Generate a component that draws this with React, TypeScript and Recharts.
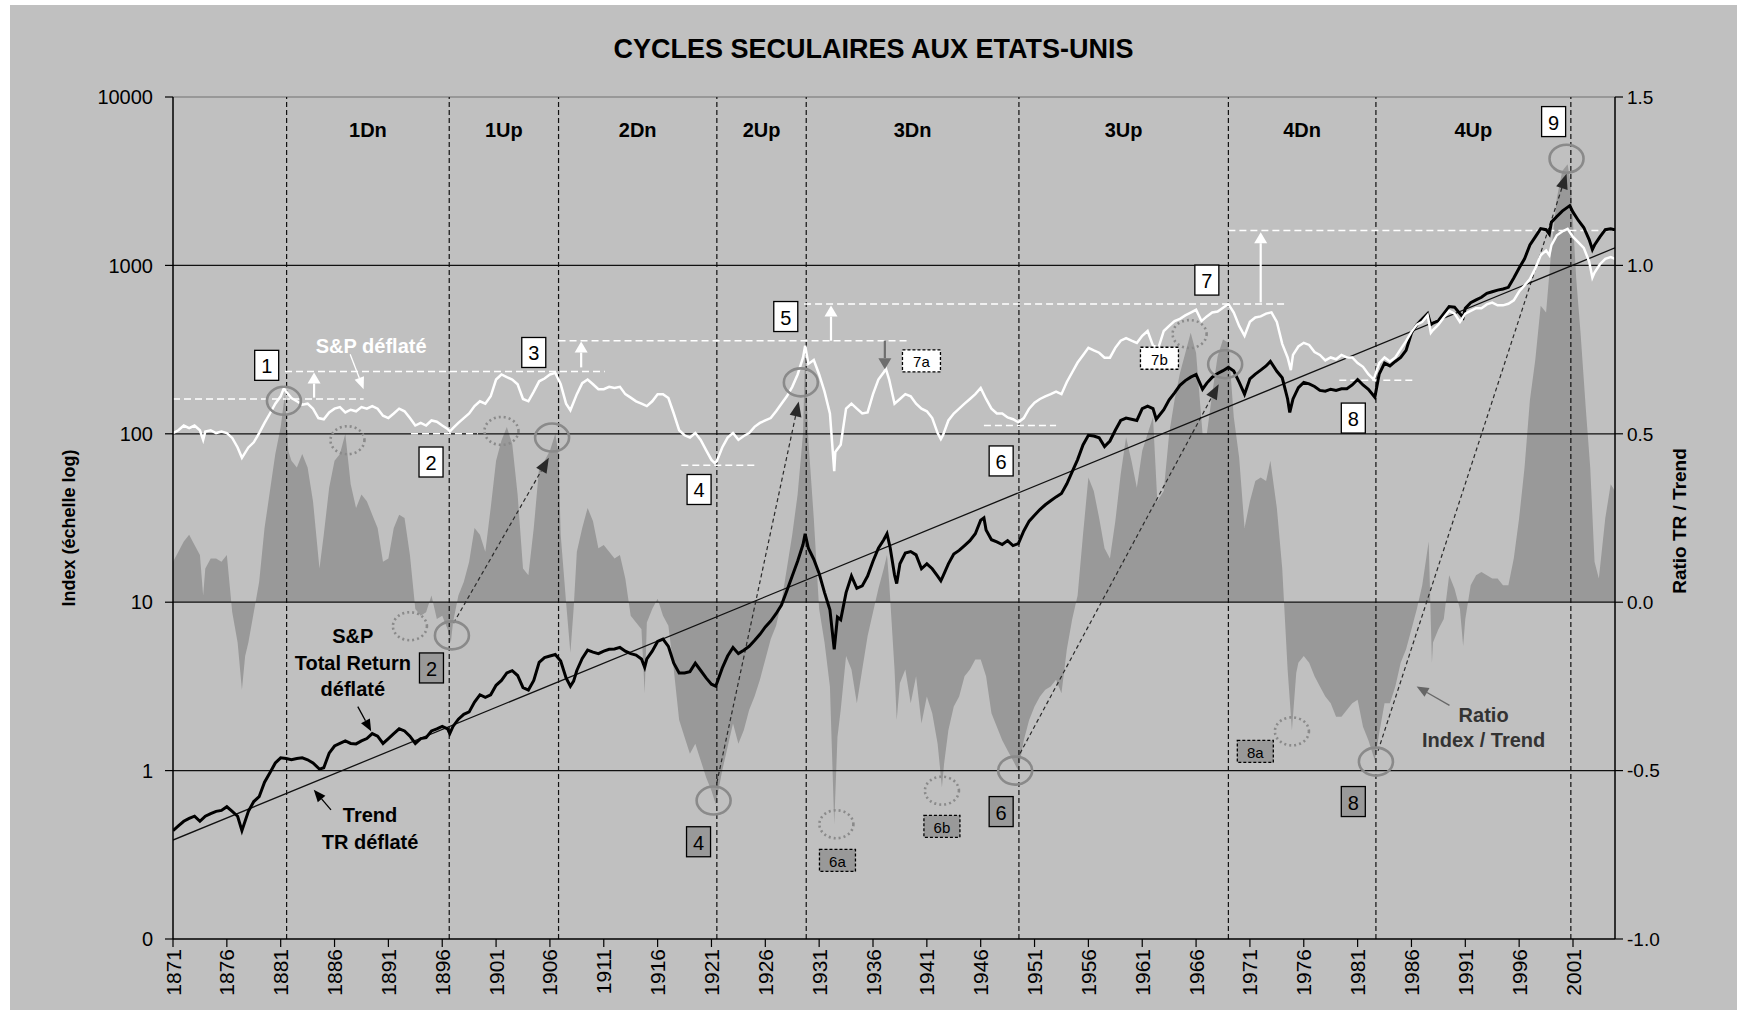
import React from 'react';
import { ComposedChart, Line, Area, XAxis, YAxis, ReferenceLine, ReferenceDot } from 'recharts';

const FONT = "'Liberation Sans', Arial, Helvetica, sans-serif";
const W = 1727;
const H = 1005;

// ---------- series (year, value) ----------
const SP_DEFLATED: [number, number][] = [
  [1871,101],[1871.5,105],[1872,112],[1872.5,108],[1873,112],[1873.5,105],[1873.8,92],[1874,103],[1874.5,105],[1875,101],[1875.5,103],[1876,101],[1876.5,94.5],[1877,83],[1877.4,72],[1878,83],[1878.5,89],[1879,101],[1879.5,116],[1880,132],[1880.5,151],[1881,167],[1881.3,187],[1881.5,178],[1882,163],[1882.5,156],[1883,149],[1883.5,151],[1884,141],[1884.5,124],[1885,122],[1885.5,134],[1886,141],[1886.5,144],[1887,134],[1887.5,139],[1888,136],[1888.5,144],[1889,141],[1889.5,146],[1890,141],[1890.5,128],[1891,124],[1891.5,132],[1892,141],[1892.5,136],[1893,124],[1893.5,112],[1894,116],[1894.5,112],[1895,120],[1895.5,118],[1896,112],[1896.5,107],[1896.7,103],[1897,108],[1897.5,116],[1898,124],[1898.5,132],[1899,146],[1899.5,156],[1900,151],[1900.5,167],[1901,210],[1901.5,225],[1902,217],[1902.5,210],[1903,197],[1903.5,161],[1904,156],[1904.5,178],[1905,205],[1905.5,213],[1906,225],[1906.5,230],[1907,197],[1907.5,151],[1907.9,138],[1908.5,172],[1909,200],[1909.5,210],[1910,197],[1910.5,184],[1911,184],[1911.5,190],[1912,187],[1912.5,190],[1913,172],[1913.5,164],[1914,156],[1914.5,151],[1915,146],[1915.5,156],[1916,172],[1916.5,172],[1917,163],[1917.5,132],[1918,105],[1918.5,98],[1919,95],[1919.5,101],[1920,92],[1920.5,80],[1921,70],[1921.3,67],[1921.5,69],[1922,83],[1922.5,95],[1923,101],[1923.5,92],[1924,97],[1924.5,101],[1925,110],[1925.5,116],[1926,120],[1926.5,124],[1927,136],[1927.5,151],[1928,167],[1928.5,190],[1929,225],[1929.5,283],[1929.7,334],[1930,260],[1930.5,274],[1931,225],[1931.5,178],[1932,132],[1932.4,60],[1932.5,78],[1933,86],[1933.5,141],[1934,151],[1934.5,141],[1935,132],[1935.5,134],[1936,172],[1936.5,210],[1937,232],[1937.2,243],[1937.5,210],[1938,151],[1938.5,161],[1939,172],[1939.5,167],[1940,151],[1940.5,141],[1941,136],[1941.5,124],[1942,101],[1942.3,93],[1942.5,98],[1943,120],[1943.5,132],[1944,141],[1944.5,151],[1945,161],[1945.5,172],[1946,187],[1946.5,161],[1947,141],[1947.5,132],[1948,132],[1948.5,125],[1949,122],[1949.5,117],[1950,124],[1950.5,141],[1951,153],[1951.5,161],[1952,167],[1952.5,172],[1953,178],[1953.5,172],[1954,203],[1954.5,232],[1955,265],[1955.5,293],[1956,324],[1956.5,313],[1957,303],[1957.5,283],[1958,283],[1958.5,324],[1959,357],[1959.5,370],[1960,357],[1960.5,346],[1961,382],[1961.5,408],[1962,334],[1962.5,324],[1963,408],[1963.5,437],[1964,467],[1964.5,482],[1965,505],[1965.5,525],[1966,545],[1966.5,467],[1967,498],[1967.5,525],[1968,532],[1968.5,560],[1969,590],[1969.5,525],[1970,437],[1970.5,382],[1971,462],[1971.5,491],[1972,498],[1972.5,517],[1973,526],[1973.5,462],[1974,342],[1974.5,284],[1974.8,239],[1975,294],[1975.5,330],[1976,347],[1976.5,337],[1977,306],[1977.5,294],[1978,273],[1978.5,284],[1979,277],[1979.5,294],[1980,284],[1980.5,284],[1981,263],[1981.5,250],[1982,226],[1982.5,210],[1983,263],[1983.5,284],[1984,269],[1984.5,284],[1985,318],[1985.5,355],[1986,403],[1986.5,445],[1987,462],[1987.5,506],[1987.8,398],[1988,413],[1988.5,445],[1989,491],[1989.5,537],[1990,517],[1990.5,462],[1991,517],[1991.5,537],[1992,557],[1992.5,557],[1993,587],[1993.5,601],[1994,579],[1994.5,579],[1995,592],[1995.5,620],[1996,700],[1996.5,760],[1997,830],[1997.5,960],[1998,1150],[1998.5,1225],[1998.8,1150],[1999,1320],[1999.5,1510],[2000,1590],[2000.5,1650],[2001,1476],[2001.5,1371],[2002,1271],[2002.5,1054],[2002.8,847],[2003,907],[2003.5,1016],[2004,1094],[2004.5,1119],[2004.9,1094],
];

const TR_DEFLATED: [number, number][] = [
  [1871,0.44],[1871.5,0.47],[1872,0.5],[1872.5,0.52],[1873,0.536],[1873.5,0.5],[1874,0.536],[1874.5,0.555],[1875,0.573],[1875.5,0.58],[1876,0.61],[1876.5,0.573],[1877,0.536],[1877.4,0.44],[1878,0.573],[1878.5,0.655],[1879,0.7],[1879.5,0.853],[1880,0.97],[1880.5,1.11],[1881,1.19],[1881.5,1.18],[1882,1.16],[1882.5,1.18],[1883,1.19],[1883.5,1.16],[1884,1.11],[1884.6,1.02],[1885,1.04],[1885.5,1.27],[1886,1.4],[1886.5,1.45],[1887,1.5],[1887.5,1.45],[1888,1.44],[1888.5,1.5],[1889,1.55],[1889.5,1.66],[1890,1.6],[1890.5,1.45],[1891,1.55],[1891.5,1.66],[1892,1.77],[1892.5,1.72],[1893,1.6],[1893.5,1.45],[1894,1.55],[1894.5,1.57],[1895,1.72],[1895.5,1.77],[1896,1.83],[1896.5,1.77],[1896.7,1.66],[1897,1.83],[1897.5,2.02],[1898,2.16],[1898.5,2.23],[1899,2.55],[1899.5,2.82],[1900,2.72],[1900.5,2.82],[1901,3.21],[1901.5,3.43],[1902,3.8],[1902.5,3.92],[1903,3.67],[1903.5,3.11],[1904,3.01],[1904.5,3.43],[1905,4.4],[1905.5,4.69],[1906,4.79],[1906.5,4.89],[1907,4.48],[1907.5,3.55],[1907.9,3.17],[1908.2,3.4],[1908.5,3.93],[1909,4.64],[1909.5,5.19],[1910,5.05],[1910.5,4.95],[1911,5.12],[1911.5,5.25],[1912,5.28],[1912.5,5.39],[1913,5.12],[1913.5,4.95],[1914,4.85],[1914.5,4.6],[1914.8,4.1],[1915,4.6],[1915.5,5.12],[1916,5.85],[1916.5,6.04],[1917,5.47],[1917.5,4.34],[1918,3.8],[1918.5,3.8],[1919,3.87],[1919.5,4.34],[1920,3.93],[1920.5,3.55],[1921,3.26],[1921.4,3.17],[1922,4.06],[1922.5,4.79],[1923,5.39],[1923.5,4.95],[1924,5.19],[1924.5,5.47],[1925,5.92],[1925.5,6.45],[1926,7.13],[1926.5,7.73],[1927,8.54],[1927.5,9.62],[1928,11.7],[1928.5,14.3],[1929,17.5],[1929.5,22],[1929.7,25.5],[1930,20.9],[1930.5,18],[1931,14.8],[1931.5,11.4],[1932,9],[1932.4,5.25],[1932.7,8.15],[1933,7.87],[1933.5,11.4],[1934,14.3],[1934.5,12.1],[1935,12.5],[1935.5,14.3],[1936,17.5],[1936.5,20.9],[1937,23.5],[1937.3,25.5],[1937.6,21],[1938,14.5],[1938.2,12.9],[1938.5,16.9],[1939,19.6],[1939.5,20],[1940,19.1],[1940.5,15.8],[1941,16.9],[1941.5,15.8],[1942,14.3],[1942.3,13.4],[1942.5,14.3],[1943,16.9],[1943.5,19.3],[1944,20.3],[1944.5,21.7],[1945,23.2],[1945.5,25.5],[1946,30.7],[1946.3,31.7],[1946.5,26.8],[1947,23.5],[1947.5,22.8],[1948,22],[1948.5,23.2],[1949,21.7],[1949.5,22.3],[1950,26.5],[1950.5,30.3],[1951,32.8],[1951.5,35.5],[1952,37.9],[1952.5,40],[1953,42.2],[1953.5,44.2],[1954,50.5],[1954.5,59.6],[1955,70.3],[1955.5,85.9],[1956,98],[1956.5,97],[1957,94.8],[1957.5,84.1],[1958,90.6],[1958.5,105],[1959,120],[1959.5,124],[1960,122],[1960.5,120],[1961,141],[1961.5,146],[1962,141],[1962.3,122],[1963,139],[1963.5,159],[1964,175],[1964.5,194],[1965,207],[1965.5,217],[1966,225],[1966.6,184],[1967,200],[1967.5,217],[1968,228],[1968.5,237],[1969,248],[1969.5,236],[1970,203],[1970.5,172],[1971,212],[1971.5,226],[1972,239],[1972.5,253],[1972.9,269],[1973.5,235],[1974,215],[1974.5,161],[1974.7,134],[1975,161],[1975.5,188],[1976,202],[1976.5,198],[1977,191],[1977.5,181],[1978,179],[1978.5,184],[1979,181],[1979.5,185],[1980,185],[1980.5,195],[1981,210],[1981.5,195],[1982,184],[1982.6,165],[1983,226],[1983.5,263],[1984,253],[1984.5,269],[1985,284],[1985.5,313],[1986,397],[1986.5,445],[1987,480],[1987.5,517],[1987.8,445],[1988,455],[1988.5,469],[1989,517],[1989.5,570],[1990,565],[1990.5,517],[1990.8,491],[1991,557],[1991.5,601],[1992,624],[1992.5,647],[1993,682],[1993.5,698],[1994,713],[1994.5,724],[1995,741],[1995.5,841],[1996,964],[1996.5,1094],[1997,1321],[1997.5,1476],[1998,1652],[1998.5,1629],[1998.8,1535],[1999,1808],[1999.5,1950],[2000,2100],[2000.7,2264],[2001,2070],[2001.5,1849],[2002,1679],[2002.5,1422],[2002.8,1242],[2003,1321],[2003.5,1476],[2004,1629],[2004.5,1652],[2004.9,1629],
];

const RATIO_INDEX_TREND: [number, number][] = [
  [1871,0.12],[1871.5,0.15],[1872,0.18],[1872.5,0.2],[1873,0.17],[1873.5,0.14],[1873.8,0.02],[1874,0.1],[1874.5,0.13],[1875,0.13],[1875.5,0.12],[1876,0.14],[1876.5,-0.03],[1877,-0.12],[1877.4,-0.26],[1877.7,-0.16],[1878,-0.12],[1878.5,-0.03],[1879,0.06],[1879.5,0.22],[1880,0.33],[1880.5,0.44],[1881,0.52],[1881.4,0.62],[1881.7,0.45],[1882,0.42],[1882.5,0.4],[1883,0.44],[1883.5,0.4],[1884,0.3],[1884.6,0.1],[1885,0.2],[1885.5,0.34],[1886,0.42],[1886.5,0.44],[1887,0.5],[1887.5,0.35],[1888,0.28],[1888.5,0.32],[1889,0.3],[1889.5,0.26],[1890,0.22],[1890.5,0.12],[1891,0.13],[1891.5,0.22],[1892,0.26],[1892.5,0.25],[1893,0.14],[1893.5,-0.02],[1894,-0.04],[1894.5,-0.03],[1895,0.02],[1895.5,-0.05],[1896,-0.04],[1896.5,-0.08],[1896.8,-0.12],[1897,-0.06],[1897.5,0.02],[1898,0.06],[1898.5,0.12],[1899,0.22],[1899.5,0.2],[1900,0.15],[1900.5,0.28],[1901,0.42],[1901.5,0.48],[1902,0.52],[1902.5,0.47],[1903,0.32],[1903.5,0.1],[1904,0.08],[1904.5,0.22],[1905,0.4],[1905.5,0.42],[1906,0.45],[1906.5,0.5],[1906.8,0.44],[1907,0.2],[1907.5,0],[1907.9,-0.15],[1908.2,-0.02],[1908.5,0.15],[1909,0.22],[1909.5,0.28],[1910,0.24],[1910.5,0.16],[1911,0.17],[1911.5,0.15],[1912,0.13],[1912.5,0.14],[1913,0.07],[1913.5,-0.04],[1914,-0.06],[1914.5,-0.08],[1914.8,-0.27],[1915,-0.06],[1915.5,-0.02],[1916,0.01],[1916.5,-0.04],[1917,-0.07],[1917.5,-0.2],[1918,-0.35],[1918.5,-0.4],[1919,-0.45],[1919.5,-0.42],[1920,-0.47],[1920.5,-0.52],[1921,-0.56],[1921.4,-0.6],[1922,-0.5],[1922.5,-0.43],[1923,-0.36],[1923.5,-0.42],[1924,-0.38],[1924.5,-0.32],[1925,-0.28],[1925.5,-0.23],[1926,-0.17],[1926.5,-0.11],[1927,-0.07],[1927.5,0],[1928,0.1],[1928.5,0.2],[1929,0.32],[1929.5,0.5],[1929.7,0.74],[1930,0.48],[1930.5,0.25],[1931,-0.02],[1931.5,-0.12],[1932,-0.25],[1932.4,-0.66],[1932.7,-0.4],[1933,-0.32],[1933.5,-0.16],[1934,-0.2],[1934.5,-0.3],[1935,-0.2],[1935.5,-0.1],[1936,-0.03],[1936.5,0.04],[1937,0.1],[1937.3,0.14],[1937.5,0.06],[1938,-0.2],[1938.2,-0.35],[1938.5,-0.24],[1939,-0.2],[1939.5,-0.3],[1940,-0.22],[1940.5,-0.36],[1941,-0.28],[1941.5,-0.33],[1942,-0.42],[1942.4,-0.55],[1942.6,-0.48],[1943,-0.38],[1943.5,-0.31],[1944,-0.28],[1944.5,-0.22],[1945,-0.2],[1945.5,-0.17],[1946,-0.17],[1946.5,-0.22],[1947,-0.33],[1947.5,-0.37],[1948,-0.41],[1948.5,-0.44],[1949,-0.47],[1949.5,-0.5],[1950,-0.41],[1950.5,-0.35],[1951,-0.31],[1951.5,-0.28],[1952,-0.26],[1952.5,-0.25],[1953,-0.23],[1953.5,-0.27],[1954,-0.14],[1954.5,-0.05],[1955,0.02],[1955.5,0.2],[1956,0.37],[1956.5,0.33],[1957,0.25],[1957.5,0.16],[1958,0.13],[1958.5,0.24],[1959,0.38],[1959.5,0.49],[1960,0.42],[1960.5,0.34],[1961,0.45],[1961.5,0.5],[1962,0.55],[1962.4,0.3],[1963,0.33],[1963.5,0.5],[1964,0.6],[1964.5,0.68],[1965,0.74],[1965.5,0.8],[1966,0.74],[1966.6,0.5],[1967,0.5],[1967.5,0.62],[1968,0.73],[1968.5,0.78],[1969,0.77],[1969.5,0.55],[1970,0.43],[1970.5,0.22],[1971,0.3],[1971.5,0.36],[1972,0.37],[1972.5,0.36],[1972.9,0.42],[1973.5,0.28],[1974,0.1],[1974.5,-0.2],[1974.9,-0.38],[1975.3,-0.21],[1975.5,-0.18],[1976,-0.16],[1976.5,-0.18],[1977,-0.22],[1977.5,-0.25],[1978,-0.28],[1978.5,-0.3],[1979,-0.34],[1979.5,-0.34],[1980,-0.32],[1980.5,-0.3],[1981,-0.29],[1981.5,-0.37],[1982,-0.41],[1982.6,-0.47],[1983,-0.39],[1983.5,-0.3],[1984,-0.3],[1984.5,-0.25],[1985,-0.18],[1985.5,-0.14],[1986,-0.08],[1986.5,-0.02],[1987,0.05],[1987.6,0.18],[1987.9,-0.18],[1988,-0.12],[1988.5,-0.08],[1989,-0.05],[1989.5,0.08],[1990,0.04],[1990.5,-0.02],[1990.8,-0.13],[1991,-0.05],[1991.5,0.05],[1992,0.08],[1992.5,0.09],[1993,0.08],[1993.5,0.07],[1994,0.07],[1994.5,0.05],[1995,0.05],[1995.5,0.13],[1996,0.25],[1996.5,0.4],[1997,0.6],[1997.5,0.72],[1998,0.88],[1998.5,0.86],[1999,1.05],[1999.5,1.2],[2000,1.28],[2000.5,1.3],[2000.8,1.24],[2001.3,0.96],[2001.7,0.8],[2002.2,0.57],[2002.6,0.4],[2003,0.12],[2003.4,0.07],[2004,0.25],[2004.5,0.35],[2004.9,0.33],
];

const TREND_TR: [number, number][] = [[1871, 0.387], [2004.9, 1271]];

// ---------- axes ----------
const X_TICKS = [1871,1876,1881,1886,1891,1896,1901,1906,1911,1916,1921,1926,1931,1936,1941,1946,1951,1956,1961,1966,1971,1976,1981,1986,1991,1996,2001];
const LEFT_TICKS = [0.1, 1, 10, 100, 1000, 10000];
const LEFT_TICK_LABELS = ['0', '1', '10', '100', '1000', '10000'];
const RIGHT_TICKS = [-1, -0.5, 0, 0.5, 1, 1.5];
const GRID_LEVELS = [1, 10, 100, 1000];

// ---------- secular cycles ----------
const CYCLE_BOUNDS = [1881.55, 1896.65, 1906.8, 1921.5, 1929.8, 1949.55, 1969.0, 1982.7, 2000.8];
const CYCLE_NAMES = ['1Dn', '1Up', '2Dn', '2Up', '3Dn', '3Up', '4Dn', '4Up'];
const CYCLE_LABEL_LEVEL = 6370;

// ---------- annotations (year, index value) ----------
const WHITE_LEVELS: [number, number, number][] = [
  [1871, 1888.7, 161], [1881.4, 1911.1, 234], [1893.1, 1899.3, 100], [1906.8, 1939.4, 357],
  [1918.2, 1925.1, 65], [1929.6, 1974.2, 590], [1946.3, 1953.0, 112], [1969.0, 2004.8, 1610], [1979.3, 1986.1, 208],
];
const WHITE_UP_ARROWS: [number, number, number][] = [[1884.1, 164, 231], [1908.9, 248, 353], [1932.1, 357, 577], [1972.0, 603, 1574]];
const GRAY_DOWN_ARROWS: [number, number, number][] = [[1937.1, 357, 242]];
const RATIO_ARROWS: [number, number, number, number][] = [
  [1897.05, -0.062, 1905.9, 0.429], [1921.5, -0.536, 1929.1, 0.596], [1949.65, -0.449, 1968.1, 0.647], [1982.9, -0.441, 2000.4, 1.272],
];
const SOLID_CIRCLES: [number, number][] = [[1881.3, 157], [1896.9, 6.35], [1906.2, 95], [1921.2, 0.664], [1929.3, 202], [1949.2, 1.0], [1968.7, 259], [1982.7, 1.13], [2000.4, 4300]];
const DOTTED_CIRCLES: [number, number][] = [[1887.2, 91.6], [1893.0, 7.2], [1901.5, 104], [1932.6, 0.48], [1942.4, 0.76], [1965.4, 391], [1974.9, 1.71]];
const WHITE_BOXES: [string, number, number][] = [['1', 1879.7, 255], ['2', 1894.96, 68], ['3', 1904.5, 304], ['4', 1919.85, 46.7], ['5', 1927.9, 497], ['6', 1947.9, 69], ['7', 1967.0, 818], ['8', 1980.6, 124], ['9', 1999.2, 7145]];
const GRAY_BOXES: [string, number, number][] = [['2', 1895.0, 4.07], ['4', 1919.8, 0.378], ['6', 1947.9, 0.571], ['8', 1980.6, 0.655]];
const DASHED_WHITE_BOXES: [string, number, number][] = [['7a', 1940.5, 271], ['7b', 1962.6, 281]];
const DASHED_GRAY_BOXES: [string, number, number][] = [['6a', 1932.7, 0.293], ['6b', 1942.4, 0.467], ['8a', 1971.5, 1.3]];
const NOTES: [string, number, number, string][] = [
  ['S&P déflaté', 1889.4, 333, '#ffffff'],
  ['S&P', 1887.7, 6.28, '#000000'], ['Total Return', 1887.7, 4.35, '#000000'], ['déflaté', 1887.7, 3.05, '#000000'],
  ['Trend', 1889.3, 0.546, '#000000'], ['TR déflaté', 1889.3, 0.378, '#000000'],
  ['Ratio', 1992.7, 2.15, '#333333'], ['Index / Trend', 1992.7, 1.52, '#333333'],
];
const NOTE_POINTERS: [number, number, number, number, string][] = [
  [1887.45, 297, 1888.7, 184, '#ffffff'],
  [1888.16, 2.4, 1889.4, 1.71, '#000000'],
  [1885.67, 0.585, 1884.07, 0.769, '#000000'],
  [1989.53, 2.44, 1986.48, 3.16, '#666666'],
];

// ---------- build table ----------
const rowMap = new Map<number, any>();
const put = (arr: [number, number][], key: string) => {
  arr.forEach(([yr, v]) => {
    const r = rowMap.get(yr) ?? { year: yr };
    r[key] = v;
    rowMap.set(yr, r);
  });
};
put(SP_DEFLATED, 'sp');
put(TR_DEFLATED, 'tr');
put(RATIO_INDEX_TREND, 'ratio');
put(TREND_TR, 'trend');
const ROWS = Array.from(rowMap.values()).sort((a, b) => a.year - b.year);

// ---------- shapes ----------
const arrowShape = (color: string, width: number, dash: string | undefined, head: number, headW: number) => (p: any) => {
  const { x1, y1, x2, y2 } = p;
  const dx = x2 - x1;
  const dy = y2 - y1;
  const len = Math.hypot(dx, dy) || 1;
  const ux = dx / len;
  const uy = dy / len;
  const bx = x2 - ux * head;
  const by = y2 - uy * head;
  const px = (-uy * headW) / 2;
  const py = (ux * headW) / 2;
  return (
    <g>
      <line x1={x1} y1={y1} x2={bx} y2={by} stroke={color} strokeWidth={width} strokeDasharray={dash} />
      <polygon points={`${x2},${y2} ${bx + px},${by + py} ${bx - px},${by - py}`} fill={color} />
    </g>
  );
};

const ellipseShape = (dotted: boolean) => (p: any) => (
  <ellipse cx={p.cx} cy={p.cy} rx={17} ry={14} fill="none" stroke="#8a8a8a" strokeWidth={2.6} strokeDasharray={dotted ? '2 3' : undefined} />
);

const boxShape = (label: string, fill: string, dashed: boolean, w: number, h: number, fs: number) => (p: any) => (
  <g>
    <rect x={p.cx - w / 2} y={p.cy - h / 2} width={w} height={h} fill={fill} stroke="#000" strokeWidth={1.3} strokeDasharray={dashed ? '3 2' : undefined} />
    <text x={p.cx} y={p.cy + 1} textAnchor="middle" dominantBaseline="central" fontSize={fs} fontFamily={FONT} fill="#000">{label}</text>
  </g>
);

const textShape = (label: string, color: string, fs: number, bold: boolean) => (p: any) => (
  <text x={p.cx} y={p.cy} textAnchor="middle" dominantBaseline="central" fontSize={fs} fontWeight={bold ? 'bold' : 'normal'} fontFamily={FONT} fill={color}>{label}</text>
);

const XTick = (p: any) => (
  <text transform={`translate(${p.x},${p.y}) rotate(-90)`} textAnchor="end" dominantBaseline="central" fontSize={21} fontFamily={FONT} fill="#000">
    {p.payload.value}
  </text>
);

export default function App() {
  return (
    <div style={{ position: 'absolute', left: 10, top: 5, width: W, height: H, background: '#c0c0c0', fontFamily: FONT, overflow: 'hidden' }}>
      <div style={{ position: 'absolute', left: 0, top: 29, width: '100%', textAlign: 'center', fontSize: 27, fontWeight: 'bold', lineHeight: '30px', color: '#000' }}>
        CYCLES SECULAIRES AUX ETATS-UNIS
      </div>
      <ComposedChart width={W} height={H} data={ROWS} margin={{ top: 92, right: 0, bottom: 0, left: 0 }}>
        <XAxis
          dataKey="year"
          type="number"
          domain={[1871, 2004.9]}
          ticks={X_TICKS}
          allowDataOverflow
          height={71}
          tickSize={8}
          tick={<XTick />}
          axisLine={{ stroke: '#000', strokeWidth: 1.5 }}
          tickLine={{ stroke: '#000', strokeWidth: 1.2 }}
          interval={0}
        />
        <YAxis
          yAxisId="L"
          scale="log"
          domain={[0.1, 10000]}
          ticks={LEFT_TICKS}
          allowDataOverflow
          width={163}
          tickSize={8}
          tickMargin={12}
          tickFormatter={(v: number) => LEFT_TICK_LABELS[LEFT_TICKS.indexOf(v)] ?? String(v)}
          tick={{ fontSize: 20, fill: '#000', fontFamily: FONT }}
          axisLine={{ stroke: '#000', strokeWidth: 1.5 }}
          tickLine={{ stroke: '#000', strokeWidth: 1.2 }}
          interval={0}
        />
        <YAxis
          yAxisId="R"
          orientation="right"
          domain={[-1, 1.5]}
          ticks={RIGHT_TICKS}
          allowDataOverflow
          width={122}
          tickSize={8}
          tickMargin={4}
          tickFormatter={(v: number) => v.toFixed(1)}
          tick={{ fontSize: 19, fill: '#000', fontFamily: FONT }}
          axisLine={{ stroke: '#000', strokeWidth: 1.5 }}
          tickLine={{ stroke: '#000', strokeWidth: 1.2 }}
          interval={0}
        />

        <Area yAxisId="R" dataKey="ratio" type="linear" baseValue={0} fill="#999999" fillOpacity={1} stroke="none" connectNulls isAnimationActive={false} dot={false} activeDot={false} />

        <ReferenceLine yAxisId="L" y={10000} stroke="#707070" strokeWidth={1.2} />
        {GRID_LEVELS.map((g) => (
          <ReferenceLine key={`g${g}`} yAxisId="L" y={g} stroke="#111" strokeWidth={1.3} />
        ))}
        {CYCLE_BOUNDS.map((b) => (
          <ReferenceLine key={`c${b}`} yAxisId="L" x={b} stroke="#111" strokeWidth={1.2} strokeDasharray="5 3" />
        ))}
        {WHITE_LEVELS.map(([a, b, v], i) => (
          <ReferenceLine key={`wl${i}`} yAxisId="L" segment={[{ x: a, y: v }, { x: b, y: v }]} stroke="#ffffff" strokeWidth={1.5} strokeDasharray="7 4" ifOverflow="visible" />
        ))}
        {RATIO_ARROWS.map(([a, r1, b, r2], i) => (
          <ReferenceLine key={`ra${i}`} yAxisId="R" segment={[{ x: a, y: r1 }, { x: b, y: r2 }]} stroke="#222" shape={arrowShape('#2a2a2a', 1.2, '4 3', 15, 12)} ifOverflow="visible" />
        ))}

        <Line yAxisId="L" dataKey="trend" type="linear" stroke="#111" strokeWidth={1.3} dot={false} activeDot={false} connectNulls isAnimationActive={false} />
        <Line yAxisId="L" dataKey="tr" type="linear" stroke="#000" strokeWidth={3} dot={false} activeDot={false} connectNulls isAnimationActive={false} />
        <Line yAxisId="L" dataKey="sp" type="linear" stroke="#ffffff" strokeWidth={2.5} dot={false} activeDot={false} connectNulls isAnimationActive={false} />

        {WHITE_UP_ARROWS.map(([x, a, b], i) => (
          <ReferenceLine key={`wu${i}`} yAxisId="L" segment={[{ x, y: a }, { x, y: b }]} stroke="#fff" shape={arrowShape('#ffffff', 2.2, undefined, 11, 13)} ifOverflow="visible" />
        ))}
        {GRAY_DOWN_ARROWS.map(([x, a, b], i) => (
          <ReferenceLine key={`gd${i}`} yAxisId="L" segment={[{ x, y: a }, { x, y: b }]} stroke="#666" shape={arrowShape('#6e6e6e', 2.2, undefined, 11, 13)} ifOverflow="visible" />
        ))}
        {NOTE_POINTERS.map(([a, v1, b, v2, col], i) => (
          <ReferenceLine key={`np${i}`} yAxisId="L" segment={[{ x: a, y: v1 }, { x: b, y: v2 }]} stroke={col} shape={arrowShape(col, 1.3, undefined, 12, 10)} ifOverflow="visible" />
        ))}

        {SOLID_CIRCLES.map(([x, v], i) => (
          <ReferenceDot key={`sc${i}`} yAxisId="L" x={x} y={v} r={1} shape={ellipseShape(false)} ifOverflow="visible" />
        ))}
        {DOTTED_CIRCLES.map(([x, v], i) => (
          <ReferenceDot key={`dc${i}`} yAxisId="L" x={x} y={v} r={1} shape={ellipseShape(true)} ifOverflow="visible" />
        ))}
        {WHITE_BOXES.map(([t, x, v]) => (
          <ReferenceDot key={`wb${t}`} yAxisId="L" x={x} y={v} r={1} shape={boxShape(t, '#ffffff', false, 24, 30, 20)} ifOverflow="visible" />
        ))}
        {GRAY_BOXES.map(([t, x, v]) => (
          <ReferenceDot key={`gb${t}`} yAxisId="L" x={x} y={v} r={1} shape={boxShape(t, '#999999', false, 24, 30, 20)} ifOverflow="visible" />
        ))}
        {DASHED_WHITE_BOXES.map(([t, x, v]) => (
          <ReferenceDot key={`dw${t}`} yAxisId="L" x={x} y={v} r={1} shape={boxShape(t, '#ffffff', true, 38, 22, 15)} ifOverflow="visible" />
        ))}
        {DASHED_GRAY_BOXES.map(([t, x, v]) => (
          <ReferenceDot key={`dg${t}`} yAxisId="L" x={x} y={v} r={1} shape={boxShape(t, '#999999', true, 36, 22, 15)} ifOverflow="visible" />
        ))}
        {NOTES.map(([t, x, v, col], i) => (
          <ReferenceDot key={`n${i}`} yAxisId="L" x={x} y={v} r={1} shape={textShape(t, col, 20, true)} ifOverflow="visible" />
        ))}
        {CYCLE_NAMES.map((name, i) => (
          <ReferenceDot key={`cn${name}`} yAxisId="L" x={(CYCLE_BOUNDS[i] + CYCLE_BOUNDS[i + 1]) / 2} y={CYCLE_LABEL_LEVEL} r={1} shape={textShape(name, '#000', 20, true)} ifOverflow="visible" />
        ))}
      </ComposedChart>
      <div style={{ position: 'absolute', left: 58.7, top: 523, transform: 'translate(-50%, -50%) rotate(-90deg)', whiteSpace: 'nowrap', fontSize: 18, fontWeight: 'bold', color: '#000' }}>
        Index (échelle log)
      </div>
      <div style={{ position: 'absolute', left: 1669.7, top: 516, transform: 'translate(-50%, -50%) rotate(-90deg)', whiteSpace: 'nowrap', fontSize: 19, fontWeight: 'bold', color: '#000' }}>
        Ratio TR / Trend
      </div>
    </div>
  );
}
